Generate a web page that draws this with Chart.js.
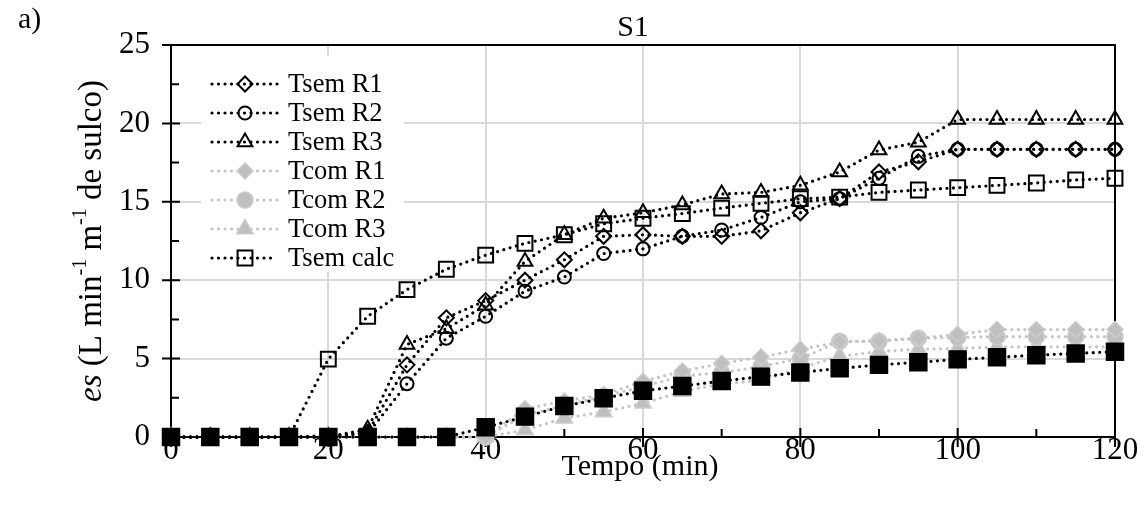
<!DOCTYPE html>
<html lang="pt">
<head>
  <meta charset="UTF-8" />
  <title>S1 - es</title>
  <script src="https://cdn.jsdelivr.net/npm/chart.js"></script>
  <style>
    html, body { margin: 0; padding: 0; background: #fff; }
    #wrap { width: 1144px; height: 510px; }
    canvas { display: block; }
  </style>
</head>
<body>
  <div id="wrap"><canvas id="esChart" width="1144" height="510"></canvas></div>

  <script>
    // tempo (min) e escoamento superficial es (L min-1 m-1 de sulco)
    const tempo = [0, 5, 10, 15, 20, 25, 30, 35, 40, 45, 50, 55, 60, 65, 70, 75, 80, 85, 90, 95, 100, 105, 110, 115, 120];

    const tsemR1 = [0, 0, 0, 0, 0, 0.3, 4.6, 7.6, 8.7, 10.0, 11.3, 12.8, 12.9, 12.8, 12.8, 13.15, 14.3, 15.2, 16.9, 17.55, 18.35, 18.35, 18.35, 18.35, 18.35];
    const tsemR2 = [0, 0, 0, 0, 0.1, 0.2, 3.4, 6.3, 7.7, 9.3, 10.2, 11.7, 12.0, 12.8, 13.2, 14.0, 15.0, 15.2, 16.5, 17.9, 18.35, 18.35, 18.35, 18.35, 18.35];
    const tsemR3 = [0, 0, 0, 0, 0, 0.5, 5.9, 6.9, 8.4, 11.2, 12.9, 13.95, 14.3, 14.8, 15.5, 15.6, 16.05, 16.9, 18.3, 18.8, 20.25, 20.25, 20.25, 20.25, 20.25];
    const tcomR1 = [0, 0, 0, 0, 0, 0, 0, 0, 0, 1.8, 2.3, 2.7, 3.55, 4.2, 4.7, 5.1, 5.6, 6.05, 6.15, 6.3, 6.55, 6.85, 6.85, 6.85, 6.85];
    const tcomR2 = [0, 0, 0, 0, 0, 0, 0, 0, 0, 1.4, 2.0, 2.6, 3.2, 3.9, 4.1, 4.5, 5.0, 6.1, 6.1, 6.3, 6.35, 6.4, 6.4, 6.4, 6.4];
    const tcomR3 = [0, 0, 0, 0, 0, 0, 0, 0, 0, 0.45, 1.2, 1.6, 2.15, 2.9, 3.4, 3.6, 4.4, 5.15, 5.45, 5.6, 5.65, 5.75, 5.75, 5.75, 5.75];
    const tsemCalc = [0, 0, 0, 0, 4.97, 7.7, 9.4, 10.7, 11.6, 12.35, 12.9, 13.6, 13.95, 14.25, 14.6, 14.9, 15.2, 15.3, 15.6, 15.75, 15.9, 16.05, 16.2, 16.4, 16.5];
    const tcomCalc = [0, 0, 0, 0, 0, 0, 0, 0, 0.62, 1.3, 1.98, 2.47, 2.95, 3.25, 3.57, 3.85, 4.12, 4.38, 4.6, 4.77, 4.95, 5.08, 5.22, 5.33, 5.44];

    const xTicks = [0, 20, 40, 60, 80, 100, 120];
    const yTicks = [0, 5, 10, 15, 20, 25];

    const FONT = 'Liberation Serif, Times New Roman, serif';
    const PRETO = '#000000';
    const CINZA = '#bfbfbf';
    const CINZA_LINHA = '#c4c4c4';

    const pontos = arr => arr.map((v, i) => ({ x: tempo[i], y: v }));

    function serie(label, valores, estilo, raio, cor, preenchido, ordem, naLegenda) {
      return {
        label: label,
        data: pontos(valores),
        borderColor: cor === PRETO ? PRETO : CINZA_LINHA,
        borderWidth: 3.2,
        borderDash: [0, 6.5],
        borderCapStyle: 'round',
        tension: 0,
        fill: false,
        clip: false,
        pointStyle: estilo,
        pointRadius: raio,
        pointHoverRadius: raio,
        pointBorderWidth: preenchido ? 1.5 : 2,
        pointBorderColor: cor === PRETO ? PRETO : '#cbcbcb',
        pointBackgroundColor: preenchido ? cor : 'rgba(0,0,0,0)',
        order: ordem,
        naLegenda: naLegenda
      };
    }

    const datasets = [
      serie('Tsem R1', tsemR1, 'rectRot', 7.5, PRETO, false, 1, true),
      serie('Tsem R2', tsemR2, 'circle', 6.5, PRETO, false, 1, true),
      serie('Tsem R3', tsemR3, 'triangle', 8.5, PRETO, false, 1, true),
      serie('Tcom R1', tcomR1, 'rectRot', 8, CINZA, true, 5, true),
      serie('Tcom R2', tcomR2, 'circle', 8, CINZA, true, 5, true),
      serie('Tcom R3', tcomR3, 'triangle', 9.5, CINZA, true, 5, true),
      serie('Tsem calc', tsemCalc, 'rect', 10.5, PRETO, false, 2, true),
      serie('Tcom calc', tcomCalc, 'rect', 12, PRETO, true, 3, false)
    ];

    // moldura preta e marcas dos eixos (principais cruzam o eixo, secundárias para dentro)
    const moldura = {
      id: 'moldura',
      beforeDatasetsDraw(chart) {
        const { ctx, chartArea: a, scales: { x, y } } = chart;
        ctx.save();
        ctx.strokeStyle = PRETO;
        ctx.lineWidth = 2;
        ctx.strokeRect(a.left, a.top, a.right - a.left, a.bottom - a.top);
        ctx.beginPath();
        for (let t = 0; t <= 120; t += 10) {
          const px = x.getPixelForValue(t);
          if (t % 20 === 0) { ctx.moveTo(px, a.bottom - 9); ctx.lineTo(px, a.bottom + 10); }
          else { ctx.moveTo(px, a.bottom - 8); ctx.lineTo(px, a.bottom); }
        }
        for (let v = 0; v <= 25; v += 2.5) {
          const py = y.getPixelForValue(v);
          if (v % 5 === 0) { ctx.moveTo(a.left - 9, py); ctx.lineTo(a.left + 9, py); }
          else { ctx.moveTo(a.left, py); ctx.lineTo(a.left + 8, py); }
        }
        ctx.stroke();
        ctx.restore();
      }
    };

    function desenhaMarcador(ctx, ds, cx, cy) {
      const opts = {
        pointStyle: ds.pointStyle,
        radius: ds.pointRadius,
        borderWidth: ds.pointBorderWidth,
        rotation: 0
      };
      ctx.save();
      ctx.fillStyle = ds.pointBackgroundColor;
      ctx.strokeStyle = ds.pointBorderColor;
      ctx.lineWidth = ds.pointBorderWidth;
      Chart.helpers.drawPoint(ctx, opts, cx, cy);
      ctx.restore();
    }

    // textos: rótulo do painel, título, eixos e legenda
    const textos = {
      id: 'textos',
      afterDraw(chart) {
        const { ctx, chartArea: a } = chart;
        ctx.save();
        ctx.fillStyle = PRETO;
        ctx.textBaseline = 'middle';

        ctx.font = '30px ' + FONT;
        ctx.textAlign = 'left';
        ctx.fillText('a)', 18, 20);

        ctx.textAlign = 'center';
        ctx.fillText('S1', 633, 28);
        ctx.fillText('Tempo (min)', 640, 467);

        // título do eixo y com itálico e expoentes
        const tam = 33;
        const partes = [
          { t: 'es', f: 'italic ' + tam + 'px ' + FONT, dy: 0 },
          { t: ' (L min', f: tam + 'px ' + FONT, dy: 0 },
          { t: '-1', f: Math.round(tam * 0.62) + 'px ' + FONT, dy: -tam * 0.33 },
          { t: ' m', f: tam + 'px ' + FONT, dy: 0 },
          { t: '-1', f: Math.round(tam * 0.62) + 'px ' + FONT, dy: -tam * 0.33 },
          { t: ' de sulco)', f: tam + 'px ' + FONT, dy: 0 }
        ];
        let total = 0;
        partes.forEach(p => { ctx.font = p.f; p.w = ctx.measureText(p.t).width; total += p.w; });
        ctx.translate(92, (a.top + a.bottom) / 2);
        ctx.rotate(-Math.PI / 2);
        ctx.textAlign = 'left';
        let cx = -total / 2;
        partes.forEach(p => { ctx.font = p.f; ctx.fillText(p.t, cx, p.dy); cx += p.w; });
        ctx.restore();

        // legenda
        ctx.save();
        ctx.fillStyle = '#ffffff';
        ctx.fillRect(201, 56, 203, 216);
        const linhas = [84, 113, 142, 171, 200, 229, 258];
        const itens = chart.data.datasets.filter(d => d.naLegenda);
        itens.forEach((ds, i) => {
          const yy = linhas[i];
          ctx.save();
          ctx.strokeStyle = ds.borderColor;
          ctx.lineWidth = ds.borderWidth;
          ctx.lineCap = 'round';
          ctx.setLineDash(ds.borderDash);
          ctx.beginPath();
          ctx.moveTo(212, yy);
          ctx.lineTo(ds.label === 'Tsem calc' ? 271 : 278, yy);
          ctx.stroke();
          ctx.restore();
          desenhaMarcador(ctx, ds, 245, yy);
          ctx.fillStyle = PRETO;
          ctx.font = '26.5px ' + FONT;
          ctx.textAlign = 'left';
          ctx.textBaseline = 'middle';
          ctx.fillText(ds.label, 288, yy + 1);
        });
        ctx.restore();
      }
    };

    new Chart(document.getElementById('esChart').getContext('2d'), {
      type: 'line',
      data: { datasets: datasets },
      options: {
        responsive: false,
        animation: false,
        devicePixelRatio: 1,
        layout: { padding: { top: 45, right: 29, left: 0, bottom: 0 } },
        plugins: { legend: { display: false }, tooltip: { enabled: false }, title: { display: false } },
        scales: {
          x: {
            type: 'linear', min: 0, max: 120,
            afterBuildTicks: s => { s.ticks = xTicks.map(v => ({ value: v })); },
            afterFit: s => { s.height = 73; },
            grid: { color: '#d9d9d9', lineWidth: 2, drawTicks: false },
            border: { display: false },
            ticks: { color: PRETO, padding: -5, maxRotation: 0, font: { family: FONT, size: 31 } }
          },
          y: {
            type: 'linear', min: 0, max: 25,
            afterBuildTicks: s => { s.ticks = yTicks.map(v => ({ value: v })); },
            afterFit: s => { s.width = 171; },
            grid: { color: '#d9d9d9', lineWidth: 2, drawTicks: false },
            border: { display: false },
            ticks: { color: PRETO, padding: 21, font: { family: FONT, size: 31 } }
          }
        }
      },
      plugins: [moldura, textos]
    });
  </script>
</body>
</html>
